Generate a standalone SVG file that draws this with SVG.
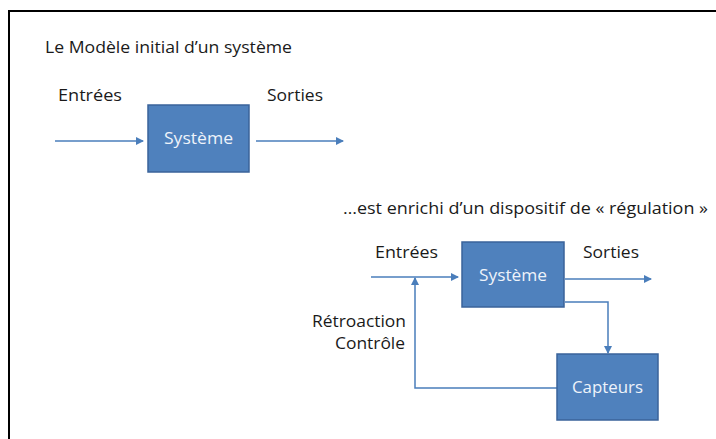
<svg xmlns="http://www.w3.org/2000/svg" width="716" height="439" viewBox="0 0 716 439">
<style>
.lbl{font-family:"Open Sans","Liberation Sans",sans-serif;font-size:16px;fill:#1a1a1a}
.box{fill:#4F81BD;stroke:#3A639A;stroke-width:1.5}
.bt{font-family:"Open Sans","Liberation Sans",sans-serif;font-size:17px;fill:#EEF3FA}
.c{fill:none;stroke:#4A7EBB;stroke-width:1.5}
</style>
<defs>
<marker id="ah" markerWidth="8" markerHeight="8" refX="7" refY="4" orient="auto" markerUnits="userSpaceOnUse">
<path d="M0,0 L8,4 L0,8 z" fill="#4A7EBB"/>
</marker>
</defs>
<rect x="0" y="0" width="716" height="439" fill="#fff"/>
<path d="M9,439 V11 H716" fill="none" stroke="#000" stroke-width="2"/>
<text class="lbl" x="45" y="53" textLength="247" lengthAdjust="spacingAndGlyphs">Le Modèle initial d’un système</text>
<text class="lbl" x="58" y="101" textLength="64" lengthAdjust="spacingAndGlyphs">Entrées</text>
<text class="lbl" x="267" y="101" textLength="56" lengthAdjust="spacingAndGlyphs">Sorties</text>
<text class="lbl" x="343" y="214" textLength="365" lengthAdjust="spacingAndGlyphs">…est enrichi d’un dispositif de « régulation »</text>
<text class="lbl" x="375" y="258" textLength="63" lengthAdjust="spacingAndGlyphs">Entrées</text>
<text class="lbl" x="583" y="258" textLength="56" lengthAdjust="spacingAndGlyphs">Sorties</text>
<text class="lbl" x="312" y="327" textLength="94" lengthAdjust="spacingAndGlyphs">Rétroaction</text>
<text class="lbl" x="335" y="349" textLength="70" lengthAdjust="spacingAndGlyphs">Contrôle</text>
<g id="connectors">
<path class="c" d="M55,141 H143" marker-end="url(#ah)"/>
<path class="c" d="M256,141 H343" marker-end="url(#ah)"/>
<path class="c" d="M371,277 H458" marker-end="url(#ah)"/>
<path class="c" d="M565,279 H651" marker-end="url(#ah)"/>
<path class="c" d="M565,302 H608 V353" marker-end="url(#ah)"/>
<path class="c" d="M557,388 H415 V278" marker-end="url(#ah)"/>
</g>
<g id="systeme1">
<rect class="box" x="148" y="105" width="101" height="67"/>
<text class="bt" x="164" y="144" textLength="69" lengthAdjust="spacingAndGlyphs">Système</text>
</g>
<g id="systeme2">
<rect class="box" x="462" y="242" width="102" height="65"/>
<text class="bt" x="479" y="281" textLength="68" lengthAdjust="spacingAndGlyphs">Système</text>
</g>
<g id="capteurs">
<rect class="box" x="557" y="354" width="101" height="66"/>
<text class="bt" x="572" y="393" textLength="71" lengthAdjust="spacingAndGlyphs">Capteurs</text>
</g>
</svg>
